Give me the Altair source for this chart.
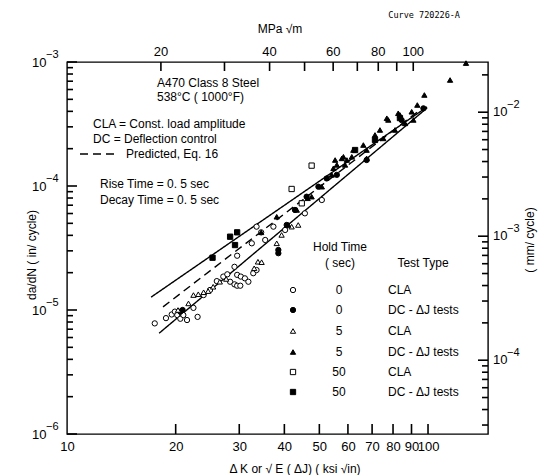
import altair as alt
import pandas as pd

FONT = "Liberation Sans Narrow, Liberation Sans, Arial, sans-serif"
W, H = 421, 372
KSI_DOMAIN = [10, 146.6]
RATE_DOMAIN = [1e-6, 1e-3]

# unit conversions for the secondary (metric) axes
MPA_PER_KSI = 1.0988
MM_PER_IN = 25.4

# ---- measured crack growth: ΔK (ksi√in) and da/dN (in/cycle) ----
# CLA, hold time 0 s
cla0_dk = [17.5, 18.8, 19.5, 19.9, 20.2, 20.6, 21.0, 21.5, 23.0, 22.4, 23.9, 24.9,
           26.0, 27.1, 27.8, 28.3, 29.1, 29.6, 30.2, 29.6, 30.3, 31.1, 31.8, 29.1,
           29.6, 32.8, 33.5, 32.5, 33.5, 34.5, 35.4, 40.2, 45.6, 50.8, 37.3]
cla0_rate = [7.8e-6, 8.6e-6, 9.2e-6, 9.7e-6, 9.1e-6, 8.5e-6, 9.1e-6, 8.3e-6, 8.8e-6,
             1.04e-5, 1.32e-5, 1.45e-5, 1.71e-5, 1.86e-5, 1.94e-5, 1.69e-5, 1.61e-5,
             1.57e-5, 1.57e-5, 1.92e-5, 1.86e-5, 1.80e-5, 1.69e-5, 2.23e-5, 2.74e-5,
             1.98e-5, 2.10e-5, 3.45e-5, 4.70e-5, 4.23e-5, 3.67e-5, 4.42e-5, 6.02e-5,
             7.71e-5, 4.70e-5]
# DC - ΔJ, hold time 0 s
dc0_dk = [20.6, 20.9, 38.5, 38.5, 40.6, 42.8, 46.1, 49.7, 52.4, 55.9, 67.6, 84.5, 97.1]
dc0_rate = [9.7e-6, 1.0e-5, 2.87e-5, 3.05e-5, 4.85e-5, 6.41e-5, 8.20e-5, 9.87e-5,
            1.15e-4, 1.23e-4, 1.62e-4, 3.40e-4, 4.23e-4]
# CLA, hold time 5 s
cla5_dk = [20.3, 21.7, 22.4, 23.1, 23.9, 24.6, 25.4, 26.5, 27.6, 33.8, 34.6, 33.0,
           43.7, 41.9, 38.1, 39.3]
cla5_rate = [1.0e-5, 1.13e-5, 1.32e-5, 1.34e-5, 1.39e-5, 1.42e-5, 1.54e-5, 1.69e-5,
             1.78e-5, 2.45e-5, 2.43e-5, 2.17e-5, 4.85e-5, 4.70e-5, 3.45e-5, 4.03e-5]
# DC - ΔJ, hold time 5 s
dc5_dk = [38.1, 34.5, 41.0, 43.3, 46.4, 47.6, 50.8, 54.1, 55.9, 57.7, 59.6, 61.5,
          97.7, 93.4, 90.1, 83.6, 77.6, 86.4, 73.6, 81.0, 71.3, 66.2, 67.6, 62.1,
          58.3, 55.3, 54.7, 58.9, 67.6, 75.2, 91.1, 115.1, 127.4, 76.9, 82.7]
dc5_rate = [5.65e-5, 4.23e-5, 4.85e-5, 6.41e-5, 7.96e-5, 8.20e-5, 9.87e-5, 1.23e-4,
            1.48e-4, 1.67e-4, 1.62e-4, 1.72e-4, 5.42e-4, 4.50e-4, 3.97e-4, 3.74e-4,
            3.41e-4, 3.20e-4, 2.83e-4, 2.83e-4, 2.58e-4, 2.14e-4, 1.95e-4, 1.95e-4,
            1.72e-4, 1.62e-4, 1.39e-4, 1.48e-4, 1.67e-4, 2.42e-4, 3.41e-4, 7.16e-4,
            9.8e-4, 3.52e-4, 3.86e-4]
# CLA, hold time 50 s
cla50_dk = [47.6, 41.9, 44.7]
cla50_rate = [1.46e-4, 9.46e-5, 7.25e-5]
# DC - ΔJ, hold time 50 s
dc50_dk = [25.3, 28.3, 29.6, 29.2, 62.8, 71.3, 83.6]
dc50_rate = [2.64e-5, 3.90e-5, 4.23e-5, 3.34e-5, 1.95e-4, 2.35e-4, 3.53e-4]

# ---- trend lines (end points) ----
upper_dk, upper_rate = [17.1, 99.4], [1.27e-5, 4.34e-4]
lower_dk, lower_rate = [18.0, 99.4], [6.5e-6, 4.26e-4]
pred_dk, pred_rate = [18.45, 95.0], [1.06e-5, 4.1e-4]

# ---- legend entries ----
legend_keys = ["o0", "f0", "o5", "f5", "o50", "f50"]
legend_hold = ["0", "0", "5", "5", "50", "50"]
legend_type = ["CLA", "DC - ΔJ tests", "CLA", "DC - ΔJ tests", "CLA", "DC - ΔJ tests"]

# ---- axis ticks ----
ksi_ticks = [20, 30, 40, 50, 60, 70, 80, 90, 100]
ksi_labels = [10, 20, 30, 40, 50, 60, 70, 80, 90, 100]
rate_major = [1e-6, 1e-5, 1e-4, 1e-3]
rate_exp = ["−6", "−5", "−4", "−3"]
rate_minor = [m * d for d in (1e-6, 1e-5, 1e-4) for m in range(2, 10)]
mpa_ticks = [20, 30, 40, 50, 60, 70, 80, 90, 100]
mpa_labels = [20, 40, 60, 80, 100]
mm_major = [1e-4, 1e-3, 1e-2]
mm_exp = ["−4", "−3", "−2"]
mm_minor = ([m * 1e-5 for m in range(3, 10)] + [m * 1e-4 for m in range(2, 10)]
            + [m * 1e-3 for m in range(2, 10)] + [2e-2])

# metric tick values expressed in ksi√in and in/cycle
mpa_as_ksi = [v / MPA_PER_KSI for v in mpa_ticks]
mm_major_as_rate = [v / MM_PER_IN for v in mm_major]
mm_minor_as_rate = [v / MM_PER_IN for v in mm_minor]

# ---- tables ----
series = [("o0", cla0_dk, cla0_rate), ("f0", dc0_dk, dc0_rate),
          ("o5", cla5_dk, cla5_rate), ("f5", dc5_dk, dc5_rate),
          ("o50", cla50_dk, cla50_rate), ("f50", dc50_dk, dc50_rate)]
points = pd.DataFrame([{"series": k, "ksi": a, "rate": b}
                       for k, dks, rates in series for a, b in zip(dks, rates)])
lines = pd.DataFrame(
    [{"name": n, "ksi": a, "rate": b}
     for n, dks, rates in [("upper", upper_dk, upper_rate),
                           ("lower", lower_dk, lower_rate),
                           ("pred", pred_dk, pred_rate)]
     for a, b in zip(dks, rates)])

AXIS_FONT = 13
axis_common = dict(ticks=False, grid=False, title=None, labelFlush=False,
                   labelOverlap=False, domain=False,
                   labelColor="black", labelFont=FONT, labelFontSize=AXIS_FONT)

X_MAIN = alt.X("ksi:Q", scale=alt.Scale(type="log", domain=KSI_DOMAIN, nice=False),
               axis=alt.Axis(orient="bottom", values=ksi_labels,
                             labelExpr="format(datum.value, 'd')", labelPadding=6,
                             **axis_common))
# decade labels: the base "10" comes from the axis, the exponent is a raised text mark
Y_MAIN = alt.Y("rate:Q", scale=alt.Scale(type="log", domain=RATE_DOMAIN, nice=False),
               axis=alt.Axis(orient="left", values=rate_major, labelExpr="'10'",
                             labelPadding=21, **axis_common))

shape_enc = alt.Shape("series:N", legend=None, scale=alt.Scale(
    domain=legend_keys,
    range=["circle", "circle", "triangle-up", "triangle-up", "square", "square"]))
fill_enc = alt.Fill("series:N", legend=None, scale=alt.Scale(
    domain=legend_keys, range=["white", "black", "white", "black", "white", "black"]))
size_enc = alt.Size("series:N", legend=None, scale=alt.Scale(
    domain=legend_keys, range=[28, 28, 42, 42, 32, 32]))

ONE = alt.Data(values=[{}])

# tick glyphs: a straight stroke across the symbol box
V_STROKE = "M0,-1L0,1"
H_STROKE = "M-1,0L1,0"


def label(text, x, y, align="left", size=12, angle=0, font=FONT):
    mark = alt.Chart(ONE).mark_text(font=font, fontSize=size, align=align,
                                    baseline="middle", color="black", angle=angle)
    return mark.encode(x=alt.value(x), y=alt.value(y), text=alt.value(text))


def vticks(values, y_center, length):
    """Vertical inward ticks placed on the ksi scale."""
    return alt.Chart(pd.DataFrame({"ksi": values})).mark_point(
        filled=False, stroke="black", strokeWidth=1.6, opacity=1).encode(
        x=X_MAIN, y=alt.value(y_center), shape=alt.value(V_STROKE),
        size=alt.value(length * length))


def hticks(values, x_center, length):
    """Horizontal inward ticks placed on the in/cycle scale."""
    return alt.Chart(pd.DataFrame({"rate": values})).mark_point(
        filled=False, stroke="black", strokeWidth=1.6, opacity=1).encode(
        y=Y_MAIN, x=alt.value(x_center), shape=alt.value(H_STROKE),
        size=alt.value(length * length))


# fitted lines and predicted curve
line_layer = alt.Chart(lines).mark_line(color="black", strokeWidth=1.4).encode(
    x=X_MAIN, y=Y_MAIN, detail="name:N",
    strokeDash=alt.StrokeDash("name:N", legend=None, scale=alt.Scale(
        domain=["upper", "lower", "pred"], range=[[1, 0], [1, 0], [8, 5]])))

point_layer = alt.Chart(points).mark_point(
    filled=True, stroke="black", strokeWidth=1, opacity=1
).encode(x=X_MAIN, y=Y_MAIN, shape=shape_enc, fill=fill_enc, size=size_enc)

tick_layers = [
    vticks(ksi_ticks, H - 5, 10),            # bottom, ksi√in
    vticks(mpa_as_ksi, 4.5, 9),              # top, MPa√m
    hticks(rate_major, 5, 10),               # left, in/cycle
    hticks(rate_minor, 3, 6),
    hticks(mm_major_as_rate, W - 5, 10),     # right, mm/cycle
    hticks(mm_minor_as_rate, W - 3, 6),
]

text_style = dict(font=FONT, fontSize=AXIS_FONT, color="black")
exp_style = dict(font=FONT, fontSize=11, color="black", align="left",
                 baseline="middle", dy=-7)

left_exp = alt.Chart(pd.DataFrame({"rate": rate_major, "e": rate_exp})).mark_text(
    **exp_style).encode(y=Y_MAIN, x=alt.value(-21), text="e:N")

# top axis (MPa√m) labels
top_labels = alt.Chart(pd.DataFrame({
    "ksi": [v / MPA_PER_KSI for v in mpa_labels], "lab": [str(v) for v in mpa_labels]
})).mark_text(align="center", baseline="bottom", **text_style).encode(
    x=X_MAIN, y=alt.value(-3), text="lab:N")

# right axis (mm/cycle) labels
right_base = alt.Chart(pd.DataFrame({"rate": mm_major_as_rate})).mark_text(
    align="left", baseline="middle", **text_style).encode(
    y=Y_MAIN, x=alt.value(W + 5), text=alt.value("10"))
right_exp = alt.Chart(pd.DataFrame({"rate": mm_major_as_rate, "e": mm_exp})).mark_text(
    **exp_style).encode(y=Y_MAIN, x=alt.value(W + 19), text="e:N")

notes = [
    label("A470 Class 8  Steel", 90, 21),
    label("538°C ( 1000°F)", 90, 35),
    label("CLA = Const.  load amplitude", 26, 62),
    label("DC = Deflection control", 26, 77),
    alt.Chart(ONE).mark_rule(color="black", strokeWidth=1.4, strokeDash=[8, 5]).encode(
        x=alt.value(13), x2=alt.value(51), y=alt.value(92)),
    label("Predicted, Eq. 16", 59, 92),
    label("Rise Time = 0. 5 sec", 33, 122),
    label("Decay Time = 0. 5 sec", 33, 138),
    label("Hold Time", 273, 185, align="center"),
    label("( sec)", 273, 201, align="center"),
    label("Test Type", 356, 201, align="center"),
    label("MPa √m", 213, -33, align="center"),
    label("Curve 720226-A", 393, -47, align="right", size=8.5, font="DejaVu Sans Mono"),
    label("Δ K or √ E ( ΔJ)     ( ksi √in)", 228, 407, align="center"),
    label("da/dN ( in/ cycle)", -35, 193, align="center", angle=270),
    label("( mm/ cycle)", 463, 178, align="center", angle=270),
]

legend_rows_y = [228, 248, 269, 290, 310, 330]
legend_layers = []
for key, hold, ttype, y in zip(legend_keys, legend_hold, legend_type, legend_rows_y):
    legend_layers.append(
        alt.Chart(pd.DataFrame({"series": [key]})).mark_point(
            filled=True, stroke="black", strokeWidth=1, opacity=1
        ).encode(x=alt.value(226), y=alt.value(y), shape=shape_enc, fill=fill_enc,
                 size=size_enc))
    legend_layers.append(label(hold, 272, y, align="center"))
    legend_layers.append(label(ttype, 321, y))

chart = alt.layer(
    line_layer, point_layer, left_exp, top_labels, right_base, right_exp,
    *notes, *legend_layers, *tick_layers
).properties(
    width=W, height=H,
    padding={"left": 67, "top": 62, "right": 541 - 67 - W, "bottom": 475 - 62 - H},
    autosize=alt.AutoSizeParams(type="none"),
    background="white",
).configure_view(stroke="black", strokeWidth=1.4)

chart.save("out.html", embed_options={"renderer": "svg", "actions": False})
